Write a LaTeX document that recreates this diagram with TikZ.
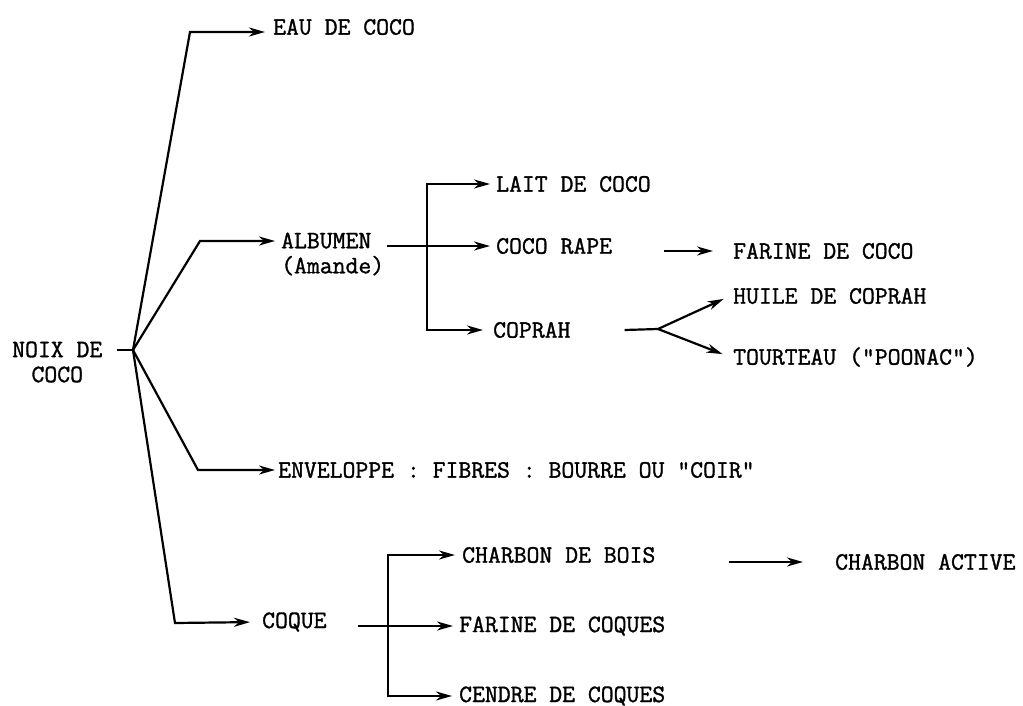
\documentclass[tikz,border=0pt]{standalone}
\usepackage{fontspec}
\usepackage{tikz}
\usetikzlibrary{positioning, arrows.meta}
\newfontfamily\typew{Latin Modern Mono}[FakeBold=1.3]

\begin{document}
\begin{tikzpicture}[
        x=1pt, y=-1pt,
        % Define common styles for the texts and the arrows
        txt/.style={font=\typew\fontsize{25}{25}\selectfont, inner sep=3pt, anchor=west, align=left},
        line/.style={line width=2.2pt},
        arrow/.style={-{Stealth[length=16pt, width=9pt, inset=5pt]}, line width=2.2pt, shorten >=3pt}
    ]
    \useasboundingbox (0,0) rectangle (1023,706);

        % Define the nodes
        \node[txt, align=center] (noix) at (9,362) {NOIX DE\\COCO};
        \coordinate (hub) at (133,350);

        \node[txt] (eau) at (270,27) {EAU DE COCO};
        \node[txt] (albumen) at (278,254) {ALBUMEN\\(Amande)};
        \node[txt] (enveloppe) at (275,470) {ENVELOPPE : FIBRES : BOURRE OU "COIR"};
        \node[txt] (coque) at (259,622) {COQUE};

        \node[txt] (lait) at (493,184) {LAIT DE COCO};
        \node[txt] (cocorape) at (493,246) {COCO RAPE};
        \node[txt] (coprah) at (490,330) {COPRAH};
        \node[txt] (farinecoco) at (730,251) {FARINE DE COCO};
        \node[txt] (huile) at (730,296) {HUILE DE COPRAH};
        \node[txt] (tourteau) at (730,357) {TOURTEAU ("POONAC")};

        \node[txt] (charbon) at (459,555) {CHARBON DE BOIS};
        \node[txt] (active) at (832,562) {CHARBON ACTIVE};
        \node[txt] (farinecoques) at (456,626) {FARINE DE COQUES};
        \node[txt] (cendre) at (456,696) {CENDRE DE COQUES};

        \coordinate (fork1) at (427,0);
        \coordinate (split) at (658,329);
        \coordinate (fork2) at (388,0);

        % Draw the arrows
        \draw[line] ([xshift=11pt]noix.east |- hub) -- (hub);

        \draw[arrow, shorten >=5pt] (hub) -- (190,32) coordinate (c1) -- (eau.west |- c1);
        \draw[arrow] (hub) -- (200,241) coordinate (c2) -- (albumen.west |- c2);
        \draw[arrow, shorten >=0pt] (hub) -- (198,470) -- (enveloppe.west);
        \draw[arrow, shorten >=9pt] (hub) -- (175,623) -- (coque.west);

        \draw[arrow] (albumen.east |- cocorape.west) -- (cocorape.west);
        \draw[arrow] (coprah.west -| fork1) -- (lait.west -| fork1) -- (lait.west);
        \draw[arrow, shorten >=7pt] (lait.west -| fork1) -- (coprah.west -| fork1) -- (coprah.west);

        \draw[arrow, shorten >=17pt] ([xshift=49pt]cocorape.east |- farinecoco.west) -- (farinecoco.west);

        \draw[line] ([xshift=51pt]coprah.east) -- (split);
        \draw[arrow, shorten >=7pt] (split) -- (huile.west);
        \draw[arrow, shorten >=8pt] (split) -- (tourteau.west);

        \draw[arrow] ([xshift=28pt]coque.east |- farinecoques.west) -- (farinecoques.west);
        \draw[arrow, shorten >=4pt] (cendre.west -| fork2) -- (charbon.west -| fork2) -- (charbon.west);
        \draw[arrow, shorten >=4pt] (charbon.west -| fork2) -- (cendre.west -| fork2) -- (cendre.west);

        \draw[arrow, shorten >=29pt] ([xshift=70pt]charbon.east |- active.west) -- (active.west);

\end{tikzpicture}
\end{document}
